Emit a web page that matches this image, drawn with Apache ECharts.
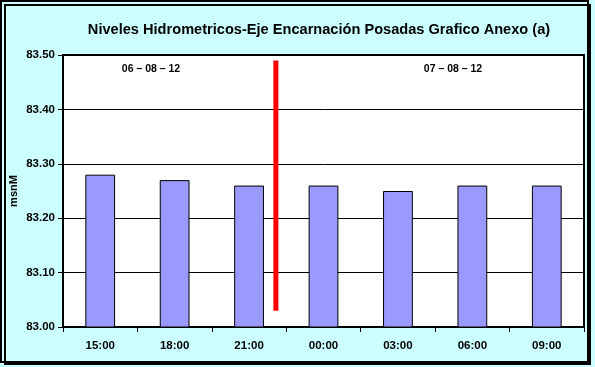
<!DOCTYPE html>
<html>
<head>
<meta charset="utf-8">
<script src="https://cdn.jsdelivr.net/npm/echarts@6/dist/echarts.min.js"></script>
<style>html,body{margin:0;padding:0;background:#CCFFFF;}#c{width:595px;height:367px;}</style>
</head>
<body>
<div id="c"></div>
<script>
const titleText = 'Niveles Hidrometricos-Eje Encarnación Posadas Grafico Anexo (a)';
const categories = ['15:00', '18:00', '21:00', '00:00', '03:00', '06:00', '09:00'];
const levels = [83.28, 83.27, 83.26, 83.26, 83.25, 83.26, 83.26];
const yTicks = [83.00, 83.10, 83.20, 83.30, 83.40, 83.50];
const yName = 'msnM';
const dayLabels = ['06 – 08 – 12', '07 – 08 – 12'];
const separatorX = [2.36, 2.36];
const separatorY = [83.49, 83.03];

const F = '"Liberation Sans", Arial, sans-serif';
const chart = echarts.init(document.getElementById('c'), null, {renderer: 'canvas'});
chart.setOption({
  backgroundColor: '#CCFFFF',
  animation: false,
  title: {
    text: titleText, left: 314, top: 17, textAlign: 'center',
    textStyle: {fontFamily: F, fontSize: 14.6, fontWeight: 'bold', color: '#000'}
  },
  graphic: [
    {type: 'rect', shape: {x: 5, y: 5, width: 585, height: 359}, style: {fill: 'none', stroke: '#000', lineWidth: 2}, z: -1},
    {type: 'rect', shape: {x: 1, y: 1, width: 587, height: 361}, style: {fill: 'none', stroke: '#000', lineWidth: 2}, z: 100},
    {type: 'text', x: 151, y: 69, style: {text: dayLabels[0], font: 'bold 10.5px ' + F, fill: '#000', textAlign: 'center', textVerticalAlign: 'middle'}, z: 100},
    {type: 'text', x: 453, y: 69, style: {text: dayLabels[1], font: 'bold 10.5px ' + F, fill: '#000', textAlign: 'center', textVerticalAlign: 'middle'}, z: 100}
  ],
  grid: {left: 63, top: 55, right: 11, bottom: 40, containLabel: false, outerBoundsMode: 'none', show: true, backgroundColor: '#fff', borderColor: '#000', borderWidth: 2},
  xAxis: [{
    type: 'category', data: categories, boundaryGap: true,
    axisLine: {show: true, onZero: false, lineStyle: {color: '#000', width: 2}},
    axisTick: {show: true, length: 5, lineStyle: {color: '#000'}},
    axisLabel: {fontFamily: F, fontSize: 11.5, fontWeight: 'bold', color: '#000', margin: 13},
    splitLine: {show: false}
  }, {
    type: 'value', min: -0.5, max: 6.5, show: false
  }],
  yAxis: {
    type: 'value', min: yTicks[0], max: yTicks[yTicks.length - 1], interval: 0.1,
    name: yName, nameLocation: 'middle', nameGap: 44, nameRotate: 90, nameMoveOverlap: false,
    nameTextStyle: {fontFamily: F, fontSize: 11, fontWeight: 'bold', color: '#000'},
    axisLine: {show: true, onZero: false, lineStyle: {color: '#000', width: 2}},
    axisTick: {show: true, inside: false, length: 5, lineStyle: {color: '#000'}},
    axisLabel: {fontFamily: F, fontSize: 11.5, fontWeight: 'bold', color: '#000', margin: 8, formatter: v => v.toFixed(2)},
    splitLine: {show: true, lineStyle: {color: '#000', width: 1}}
  },
  series: [{
    type: 'bar', data: levels, barWidth: '40%', xAxisIndex: 0,
    itemStyle: {color: '#9999FF', borderColor: '#000', borderWidth: 1}
  }, {
    type: 'line', xAxisIndex: 1, symbol: 'none',
    data: separatorX.map((x, i) => [x, separatorY[i]]),
    lineStyle: {color: '#FF0000', width: 5}, z: 10
  }]
});
</script>
</body>
</html>
